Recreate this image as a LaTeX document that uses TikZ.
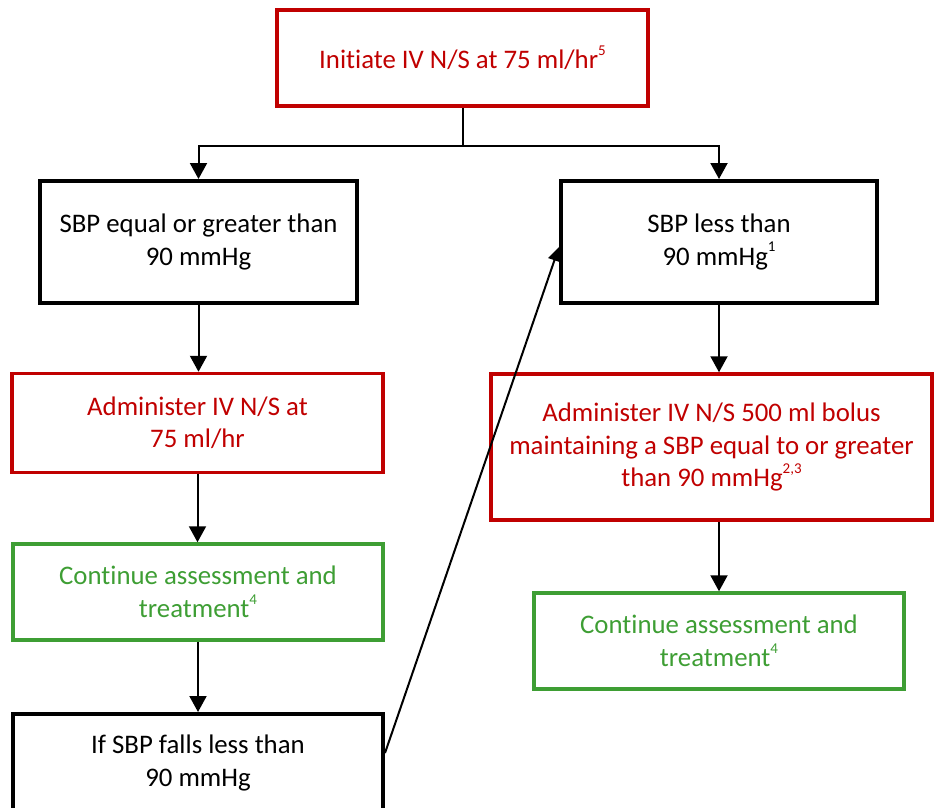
\documentclass[tikz,border=0pt]{standalone}
\usepackage{fontspec}
\setmainfont{Carlito}[RawFeature=-liga]
\usetikzlibrary{arrows.meta,positioning}

\definecolor{alertred}{RGB}{192,0,0}
\definecolor{okgreen}{RGB}{62,158,52}

% small raised footnote marks
\newcommand\refmark[1]{\raisebox{0.5em}{\fontsize{15}{15}\selectfont #1}}

\tikzset{
  box/.style={draw, rectangle, align=center, inner sep=0pt,
    font=\fontsize{26.8}{32.5}\selectfont},
  blackbox/.style={box, draw=black, line width=4pt, text=black},
  redbox/.style={box, draw=alertred, line width=3.5pt, text=alertred},
  greenbox/.style={box, draw=okgreen, line width=3.5pt, text=okgreen},
  flow/.style={draw=black, line width=2pt,
    -{Triangle[width=17pt,length=16pt]}},
  link/.style={draw=black, line width=2pt},
  jump/.style={draw=black, line width=2pt,
    -{Triangle[width=13pt,length=14pt]}}
}

\begin{document}
\begin{tikzpicture}[x=1pt,y=-1pt]
  \useasboundingbox (0,0) rectangle (934,808);

  % boxes
  \node[redbox, minimum width=371pt, minimum height=96pt] (start) at (462.5,58)
    {Initiate IV N/S at 75 ml/hr\refmark{5}};

  \node[blackbox, minimum width=317pt, minimum height=122pt] (high) at (198.5,242)
    {SBP equal or greater than\\90 mmHg};
  \node[blackbox, minimum width=316pt, minimum height=122pt] (low) at (719,242)
    {SBP less than\\90 mmHg\refmark{1}};

  \node[redbox, minimum width=371pt, minimum height=99pt] (slow) at (197.5,423)
    {Administer IV N/S at\\75 ml/hr};
  \node[redbox, minimum width=441pt, minimum height=146pt] (bolus) at (711.5,447)
    {Administer IV N/S 500 ml bolus\\maintaining a SBP equal to or greater\\than 90 mmHg\refmark{2,3}};

  \node[greenbox, minimum width=370pt, minimum height=96pt] (contL) at (198,592)
    {Continue assessment and\\treatment\refmark{4}};
  \node[greenbox, minimum width=370pt, minimum height=96pt] (contR) at (719,641)
    {Continue assessment and\\treatment\refmark{4}};

  \node[blackbox, minimum width=370pt, minimum height=98pt] (falls) at (198,763)
    {If SBP falls less than\\90 mmHg};

  % connectors
  \draw[link] (start.south) -- ++(0,38) coordinate (fork);
  \draw[flow] (fork) -| (high.north);
  \draw[flow] (fork) -| (low.north);

  \draw[flow] (high.south) -- (high.south |- slow.north);
  \draw[flow] (slow.south) -- (slow.south |- contL.north);
  \draw[flow] (contL.south) -- (contL.south |- falls.north);

  \draw[flow] (low.south) -- (low.south |- bolus.north);
  \draw[flow] (low.south |- bolus.south) -- (contR.north);

  \draw[jump] ([yshift=10pt]falls.east) -- ([yshift=-5pt]low.west);
\end{tikzpicture}
\end{document}
